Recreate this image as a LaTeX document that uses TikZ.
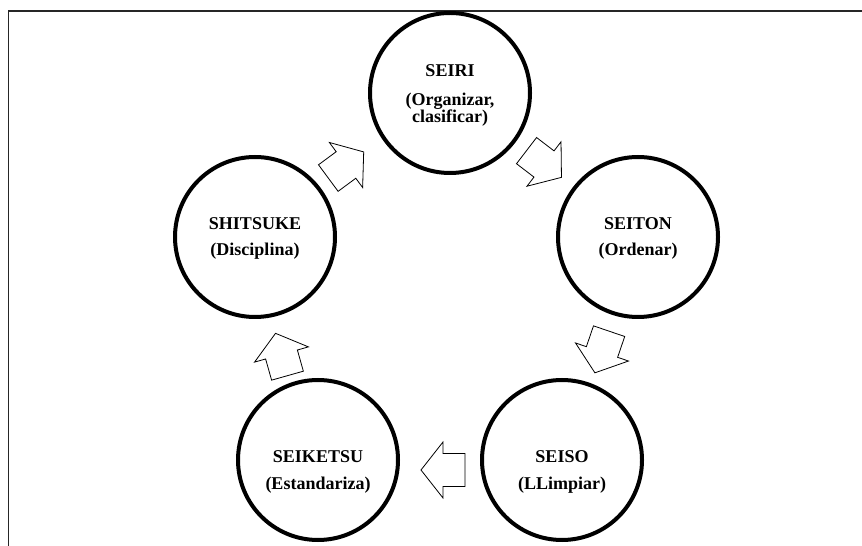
\documentclass[tikz,border=0pt]{standalone}
\usepackage{fontspec}
\setmainfont{Liberation Serif}
\usetikzlibrary{calc}
\begin{document}
\begin{tikzpicture}[x=1pt,y=1pt,
  stage/.style={circle, draw=black, line width=4pt, minimum size=160pt, inner sep=0pt, fill=white},
  caption/.style={anchor=base, font=\bfseries\fontsize{18}{18}\selectfont, inner sep=0pt},
  blockarrow/.pic={\draw[line width=0.8pt, fill=white, line join=miter]
    (-22,-16.5) -- (0,-16.5) -- (0,-28) -- (22,0) -- (0,28) -- (0,16.5) -- (-22,16.5) -- cycle;}
]
\useasboundingbox (0,0) rectangle (862,546);

% open frame: top and left edges only
\draw[line width=1.5pt, color=black!85] (8.5,0) -- (8.5,535) -- (862,535);

% the five stages
\node[stage] (seiri)    at (450,453) {};
\node[stage] (seiton)   at (638,309) {};
\node[stage] (seiso)    at (562,86)  {};
\node[stage] (seiketsu) at (318,86)  {};
\node[stage] (shitsuke) at (255,309) {};

% stage texts
\node[caption] (seiriA) at ($(seiri)+(0,16)$) {SEIRI};
\node[caption] (seiriB) at ($(seiri)+(0,-13)$) {(Organizar,};
\node[caption] (seiriC) at ($(seiri)+(0,-30)$) {clasificar)};

\node[caption] (seitonA) at ($(seiton)+(0,7)$) {SEITON};
\node[caption] (seitonB) at ($(seiton)+(0,-19)$) {(Ordenar)};

\node[caption] (shitsukeA) at ($(shitsuke)+(0,7)$) {SHITSUKE};
\node[caption] (shitsukeB) at ($(shitsuke)+(0,-19)$) {(Disciplina)};

\node[caption] (seisoA) at ($(seiso)+(0,-3)$) {SEISO};
\node[caption] (seisoB) at ($(seiso)+(0,-30)$) {(LLimpiar)};

\node[caption] (seiketsuA) at ($(seiketsu)+(0,-3)$) {SEIKETSU};
\node[caption] (seiketsuB) at ($(seiketsu)+(0,-30)$) {(Estandariza)};

% block arrows between consecutive stages
\path let \p1=($(seiri)-(shitsuke)$), \n1={atan2(\y1,\x1)} in
  ($(shitsuke)!0.5!(seiri)+(-6.5,0)$) pic[rotate=\n1] {blockarrow};
\path let \p1=($(seiton)-(seiri)$), \n1={atan2(\y1,\x1)} in
  ($(seiri)!0.5!(seiton)+(0,1)$) pic[rotate=\n1] {blockarrow};
\path let \p1=($(seiso)-(seiton)$), \n1={atan2(\y1,\x1)} in
  ($(seiton)!0.5!(seiso)+(2,-3.5)$) pic[rotate=\n1] {blockarrow};
\path let \p1=($(seiketsu)-(seiso)$), \n1={atan2(\y1,\x1)} in
  ($(seiso)!0.5!(seiketsu)+(3,-10)$) pic[rotate=\n1] {blockarrow};
\path let \p1=($(shitsuke)-(seiketsu)$), \n1={atan2(\y1,\x1)} in
  ($(seiketsu)!0.5!(shitsuke)+(-5,-6)$) pic[rotate=\n1] {blockarrow};
\end{tikzpicture}
\end{document}
